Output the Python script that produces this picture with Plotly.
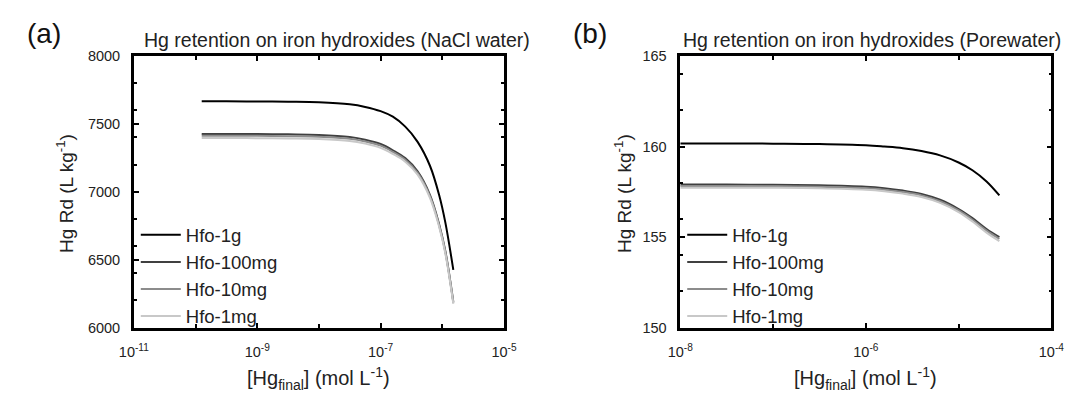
import plotly.graph_objects as go

# ---------------- data ----------------
series_names = ["Hfo-1g", "Hfo-100mg", "Hfo-10mg", "Hfo-1mg"]

# Panel (a): NaCl water
x_a = [1.26e-10, 3.16e-10, 1e-9, 3.16e-9, 1e-8, 3.16e-8, 5.62e-8, 1e-7,
       1.58e-7, 2.51e-7, 3.98e-7, 6.31e-7, 8.91e-7, 1.12e-6, 1.51e-6]
rd_a_1g = [7666, 7666, 7665, 7663, 7659, 7644, 7625, 7594, 7553, 7480,
           7368, 7192, 6975, 6775, 6425]
rd_a_100mg = [7426, 7426, 7425, 7423, 7419, 7404, 7384, 7352, 7306, 7248,
              7150, 6978, 6760, 6565, 6190]
rd_a_10mg = [7413, 7413, 7412, 7410, 7406, 7391, 7371, 7340, 7294, 7236,
             7139, 6968, 6751, 6556, 6183]
rd_a_1mg = [7396, 7396, 7395, 7393, 7389, 7375, 7355, 7324, 7279, 7222,
            7126, 6956, 6741, 6547, 6176]

# Panel (b): Porewater
x_b = [1e-8, 3.16e-8, 1e-7, 3.16e-7, 1e-6, 1.58e-6, 2.51e-6, 3.98e-6,
       6.31e-6, 1e-5, 1.41e-5, 2e-5, 2.75e-5]
rd_b_1g = [160.17, 160.17, 160.16, 160.14, 160.07, 160.00, 159.91, 159.75,
           159.51, 159.12, 158.69, 158.07, 157.30]
rd_b_100mg = [157.90, 157.90, 157.89, 157.86, 157.78, 157.70, 157.57,
              157.38, 157.06, 156.55, 156.05, 155.45, 155.00]
rd_b_10mg = [157.82, 157.82, 157.81, 157.78, 157.70, 157.62, 157.49,
             157.30, 156.98, 156.47, 155.96, 155.36, 154.90]
rd_b_1mg = [157.73, 157.73, 157.72, 157.69, 157.61, 157.53, 157.40,
            157.21, 156.89, 156.38, 155.86, 155.25, 154.78]

colors = ["#000000", "#404040", "#8c8c8c", "#c8c8c8"]

xtick_a_vals = [1e-11, 1e-9, 1e-7, 1e-5]
xtick_a_text = ["10<sup>-11</sup>", "10<sup>-9</sup>", "10<sup>-7</sup>",
                "10<sup>-5</sup>"]
xminor_a_vals = [1e-10, 1e-8, 1e-6]
xtick_b_vals = [1e-8, 1e-6, 1e-4]
xtick_b_text = ["10<sup>-8</sup>", "10<sup>-6</sup>", "10<sup>-4</sup>"]
xminor_b_vals = [1e-7, 1e-5]

title_a = "Hg retention on iron hydroxides (NaCl water)"
title_b = "Hg retention on iron hydroxides (Porewater)"
ytitle = "Hg Rd (L kg<sup>-1</sup>)"
xtitle = "[Hg<sub>final</sub>] (mol L<sup>-1</sup>)"

# ---------------- layout helpers ----------------
W, H = 1079, 399
FONT = "Liberation Sans, Arial, Helvetica, sans-serif"


def px(xp):
    return xp / W


def py(yp):
    return 1 - yp / H


fig = go.Figure()

for name, ys, c in zip(series_names, [rd_a_1g, rd_a_100mg, rd_a_10mg, rd_a_1mg], colors):
    fig.add_trace(go.Scatter(x=x_a, y=ys, mode="lines", name=name,
                             line=dict(color=c, width=2, shape="spline", smoothing=1),
                             xaxis="x", yaxis="y", legend="legend"))
for name, ys, c in zip(series_names, [rd_b_1g, rd_b_100mg, rd_b_10mg, rd_b_1mg], colors):
    fig.add_trace(go.Scatter(x=x_b, y=ys, mode="lines", name=name,
                             line=dict(color=c, width=2, shape="spline", smoothing=1),
                             xaxis="x2", yaxis="y2", legend="legend2"))

axis_common = dict(showgrid=False, zeroline=False, showline=True, linecolor="black",
                   linewidth=2.5, mirror="ticks", ticks="inside", ticklen=5,
                   tickwidth=2, tickcolor="black",
                   tickfont=dict(family=FONT, size=14.5, color="#222"))

ydom = [py(333), py(50)]

legend_common = dict(xanchor="left", yanchor="middle", bgcolor="rgba(0,0,0,0)",
                     font=dict(family=FONT, size=18.5, color="#222"),
                     itemwidth=40, tracegroupgap=0)

fig.update_layout(
    width=W, height=H, margin=dict(l=0, r=0, t=0, b=0),
    paper_bgcolor="white", plot_bgcolor="white",
    font=dict(family=FONT, color="#222"),
    xaxis=dict(type="log", range=[-11, -5], domain=[px(122), px(502)],
               tickmode="array", tickvals=xtick_a_vals, ticktext=xtick_a_text,
               minor=dict(tickmode="array", tickvals=xminor_a_vals, ticks="inside",
                          ticklen=4, tickwidth=2, tickcolor="black", showgrid=False),
               ticklabelstandoff=9, anchor="y", **axis_common),
    yaxis=dict(range=[6000, 8000], domain=ydom, tick0=6000, dtick=500,
               ticklabelstandoff=8, anchor="x",
               minor=dict(dtick=200, tick0=6000, ticks="inside", ticklen=3,
                          tickwidth=1.5, tickcolor="black", showgrid=False),
               **axis_common),
    xaxis2=dict(type="log", range=[-8, -4], domain=[px(683), px(1064)],
                tickmode="array", tickvals=xtick_b_vals, ticktext=xtick_b_text,
                minor=dict(tickmode="array", tickvals=xminor_b_vals, ticks="inside",
                           ticklen=4, tickwidth=2, tickcolor="black", showgrid=False),
                ticklabelstandoff=9, anchor="y2", **axis_common),
    yaxis2=dict(range=[150, 165], domain=ydom, tick0=150, dtick=5,
                ticklabelstandoff=8, anchor="x2",
                minor=dict(dtick=2, tick0=150, ticks="inside", ticklen=3,
                           tickwidth=1.5, tickcolor="black", showgrid=False),
                **axis_common),
    legend=dict(x=px(124), y=py(279), **legend_common),
    legend2=dict(x=px(685), y=py(279), **legend_common),
    showlegend=True,
)

ann = []
ann.append(dict(text="(a)", x=px(10), y=py(27), xref="paper", yref="paper",
                xanchor="left", yanchor="middle", showarrow=False,
                font=dict(family=FONT, size=28, color="#111")))
ann.append(dict(text="(b)", x=px(571), y=py(27), xref="paper", yref="paper",
                xanchor="left", yanchor="middle", showarrow=False,
                font=dict(family=FONT, size=28, color="#111")))
ann.append(dict(text=title_a, x=px(331), y=py(33), xref="paper", yref="paper",
                xanchor="center", yanchor="middle", showarrow=False,
                font=dict(family=FONT, size=19.5, color="#222")))
ann.append(dict(text=title_b, x=px(1076), y=py(33), xref="paper", yref="paper",
                xanchor="right", yanchor="middle", showarrow=False,
                font=dict(family=FONT, size=19.5, color="#222")))
ann.append(dict(text=ytitle, x=px(52), y=py(193), xref="paper", yref="paper",
                xanchor="center", yanchor="middle", textangle=-90, showarrow=False,
                font=dict(family=FONT, size=19, color="#222")))
ann.append(dict(text=ytitle, x=px(624), y=py(193), xref="paper", yref="paper",
                xanchor="center", yanchor="middle", textangle=-90, showarrow=False,
                font=dict(family=FONT, size=19, color="#222")))
ann.append(dict(text=xtitle, x=px(312), y=py(386), xref="paper", yref="paper",
                xanchor="center", yanchor="middle", showarrow=False,
                font=dict(family=FONT, size=20, color="#222")))
ann.append(dict(text=xtitle, x=px(873), y=py(386), xref="paper", yref="paper",
                xanchor="center", yanchor="middle", showarrow=False,
                font=dict(family=FONT, size=20, color="#222")))
fig.update_layout(annotations=ann)

fig.write_html("out.html")
